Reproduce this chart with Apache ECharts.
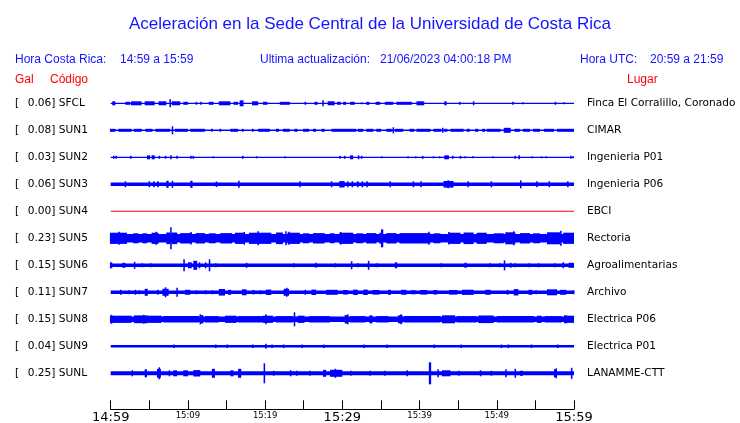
<!DOCTYPE html>
<html>
<head>
<meta charset="utf-8">
<script src="https://cdn.jsdelivr.net/npm/echarts@6/dist/echarts.min.js"></script>
<style>
html,body{margin:0;padding:0;background:#fff;}
#chart{width:740px;height:423px;}
</style>
</head>
<body>
<div id="chart"></div>
<script>
// ---------- DATA ----------
const tickLabels = ['14:59','','15:09','','15:19','','15:29','','15:39','','15:49','','15:59'];
const majorTickLabels = ['14:59','15:29','15:59'];
const stationCodes = ['SFCL','SUN1','SUN2','SUN3','SUN4','SUN5','SUN6','SUN7','SUN8','SUN9','SUNL'];
const peakGal = ['0.06','0.08','0.03','0.06','0.00','0.23','0.15','0.11','0.15','0.04','0.25'];
const places = ['Finca El Corralillo, Coronado','CIMAR','Ingenieria P01','Ingenieria P06','EBCI','Rectoria',
  'Agroalimentarias','Archivo','Electrica P06','Electrica P01','LANAMME-CTT'];
// background noise half-amplitude of each trace (counts)
const noiseLevel = [0.6, 0.8, 0.6, 1.8, 0.5, 4.3, 1.7, 1.7, 2.8, 1.3, 2];
// bursts: [start minute, end minute, half-amplitude]
const burstsSFCL = [[0.2,0.6,2],[1.9,2.5,1.5],[2.6,4.0,2],[4.4,5.7,2],[6.2,7.2,2],[7.6,7.8,4],[7.9,9.0,2],[9.4,10.0,1.5],[11.0,11.2,1.5],[11.6,11.8,1.5],[12.7,13.3,1.5],[14.0,15.5,2],[15.9,16.5,1.5],[16.7,17.2,3],[18.3,19.1,2],[19.7,20.3,1.5],[21.9,23.2,1.5],[25.1,25.3,1.5],[26.4,26.8,1.5],[27.4,27.6,3],[28.1,29.0,2],[29.3,29.8,1.5],[30.1,30.5,1.5],[31.0,31.6,1.5],[32.4,32.6,1],[33.1,33.5,1.5],[34.3,34.9,1.5],[35.5,36.6,1.5],[37.0,39.0,1.5],[39.6,40.6,2],[43.2,43.5,2],[45.1,45.3,1.5],[46.9,47.1,2],[52.0,52.2,1.5],[53.3,53.5,1],[57.5,57.7,1.5],[58.6,58.8,1]];
const burstsSUN1 = [[-0.1,0.6,1.5],[1.0,2.7,1.5],[3.0,4.0,1.5],[4.5,5.4,1.5],[5.8,7.7,1.5],[7.9,8.1,4],[8.3,10.0,1.5],[10.3,12.2,1.5],[13.0,13.2,1.5],[14.1,14.3,1.5],[15.5,16.5,1.5],[17.0,17.2,1.5],[18.3,18.5,1.5],[19.1,20.6,1.5],[21.4,21.8,1.5],[22.3,23.2,1.5],[23.8,24.2,1.5],[24.9,25.7,1.5],[26.2,26.6,1.5],[27.3,27.7,1.5],[28.6,31.8,1.5],[32.0,32.7,1.5],[33.1,34.0,1.5],[34.4,35.0,1.5],[35.7,36.4,1.5],[36.5,36.7,3],[36.8,37.9,1.5],[38.7,39.3,1.5],[39.6,41.4,1.5],[41.8,42.8,1.5],[42.9,43.1,2.5],[43.2,43.6,1.5],[44.0,45.7,1.5],[46.1,46.5,1.5],[47.2,47.6,1.5],[48.1,48.5,1.5],[48.7,50.5,1.5],[50.9,51.8,2.5],[52.3,53.0,1.5],[53.4,54.3,1.5],[54.7,55.6,1.5],[56.1,57.4,1.5],[57.8,60,1.5]];
const burstsSUN2 = [[0.3,0.5,1.5],[0.6,0.8,1.5],[2.5,2.7,1.5],[4.7,5.1,2],[5.3,5.7,2],[6.2,6.4,1.5],[7.0,7.2,1.5],[7.7,7.9,2],[8.5,8.7,1.5],[10.3,10.5,1.5],[10.6,10.8,1.5],[13.2,13.4,1],[17.0,17.2,1.5],[18.8,19.0,1],[22.5,22.7,1],[29.6,29.8,1.5],[30.2,30.4,1.5],[31.0,31.4,2],[32.0,32.2,2],[32.4,32.6,1.5],[35.0,35.2,1],[38.4,38.6,1],[39.4,39.6,1],[40.3,40.5,1.5],[41.7,41.9,1],[42.5,42.7,1],[43.2,43.8,2],[44.2,44.4,1.5],[45.2,45.4,1.5],[45.8,46.0,1],[46.8,47.0,1],[49.4,49.6,1],[52.3,52.5,1.5],[52.8,53.0,2],[54.5,54.7,1],[55.7,55.9,1],[56.3,56.5,1],[59.5,59.7,1.5],[59.8,60,1]];
const burstsSUN3 = [[1.8,2.0,3],[4.9,5.1,3],[5.5,5.7,3],[6.0,6.2,3],[7.2,7.5,3.5],[7.9,8.1,3.5],[10.3,10.6,3.5],[13.6,13.8,2.8],[16.5,16.7,3.5],[24.4,24.6,3],[28.5,28.7,3],[29.6,30.3,3.2],[30.6,30.8,3],[31.2,31.4,3],[31.9,32.1,3],[32.5,32.7,3],[33.1,33.3,3],[36.1,36.3,3],[39.1,39.3,3],[40.1,40.3,3],[43.1,44.4,3.3],[43.6,43.8,4],[46.2,46.4,3],[49.2,49.4,3],[53.0,53.2,4],[55.1,55.3,3],[56.7,56.9,3],[59.1,59.3,3]];
const burstsSUN4 = [];
const burstsSUN5 = [[-0.1,2.1,5.6],[1.0,1.2,6.5],[2.9,3.6,5],[4.1,4.7,5],[5.3,6.2,5.6],[5.8,6.0,6.5],[7.2,7.7,5.8],[7.7,7.9,11],[7.9,8.6,5.8],[9.0,10.5,5.2],[10.3,10.5,6.2],[11.0,12.2,5.2],[12.7,13.6,5],[14.2,15.7,5.2],[16.1,17.4,5.6],[17.2,17.4,6.3],[17.9,20.8,5.6],[19.0,19.2,7],[21.4,22.3,5.8],[22.6,22.8,7],[22.9,24.5,5.6],[23.0,23.2,6.5],[24.9,25.7,5],[26.2,27.7,5.2],[28.4,29.0,5],[29.6,31.4,5.6],[29.7,29.9,6.3],[31.8,32.7,5],[33.1,34.4,5.2],[34.8,35.0,5.5],[35.0,35.3,9],[35.7,37.0,5.2],[37.4,41.4,5.2],[41.1,41.3,6.5],[41.8,42.7,5],[43.7,43.9,6.2],[43.8,45.3,5.6],[45.7,47.0,5.8],[47.4,48.7,5.6],[49.6,50.9,5],[51.1,52.4,6],[52.1,52.3,7],[53.0,54.3,5.2],[54.7,55.6,5],[56.5,58.2,6],[58.2,58.4,7.5],[58.6,60,5.6]];
const burstsSUN6 = [[-0.1,0.2,3],[1.5,1.9,2.5],[3.0,3.2,3.5],[4.0,4.2,2],[5.1,5.3,2],[9.4,9.6,6],[10.0,10.5,3],[10.7,11.2,4.5],[11.4,11.6,3],[12.2,12.4,3],[12.7,12.9,6],[13.5,13.7,2],[17.5,17.7,2.5],[23.6,23.8,2],[26.5,26.7,2.5],[29.0,29.2,2],[31.1,31.3,4],[31.9,32.1,2],[33.3,33.5,4.5],[34.4,34.6,2],[36.8,37.1,3],[42.7,42.9,2],[45.8,46.1,2.5],[49.0,49.2,2],[50.3,50.5,2],[50.9,51.1,5],[51.7,51.9,2.5],[52.3,52.5,2],[54.1,54.3,2],[55.3,55.5,2],[57.4,57.6,2],[58.5,58.7,3],[59.3,60,2.5]];
const burstsSUN7 = [[1.2,1.4,2.5],[2.3,2.5,2],[3.1,3.3,2.5],[3.6,3.8,2],[4.4,4.8,3.5],[6.0,6.2,2.5],[6.7,7.5,3.5],[7.0,7.2,5],[8.5,8.7,4.5],[9.6,10.3,2.5],[11.0,11.2,2],[12.2,12.4,2],[13.1,13.3,2],[14.0,14.8,3.3],[15.2,15.6,2.5],[17.0,17.6,3],[18.3,18.7,2],[19.3,19.5,2],[20.1,20.8,2.7],[22.4,23.1,3.5],[22.7,22.9,4.5],[25.1,25.3,2.5],[26.0,26.6,2.7],[27.9,29.4,2.5],[30.1,30.7,2.3],[31.4,32.0,2.7],[32.7,33.3,2.7],[33.9,34.8,2.3],[35.9,36.3,2.5],[37.6,38.3,2.5],[38.9,39.5,2],[40.1,41.0,2.3],[41.8,42.3,2.3],[43.8,44.9,2.3],[45.5,47.0,2.6],[48.5,49.2,2.5],[51.3,51.5,2.5],[52.2,52.8,3.2],[54.1,54.6,2.5],[55.0,55.2,2],[56.5,57.8,3],[58.2,59.0,2.5],[59.9,60,2]];
const burstsSUN8 = [[-0.1,2.7,3.6],[0.0,0.2,4.5],[3.0,4.9,3.9],[4.2,4.4,4.5],[4.9,6.6,3.6],[6.8,11.4,3.2],[11.5,11.7,5],[11.7,12.0,4.2],[12.2,14.0,3.2],[14.8,16.3,3.6],[16.5,19.7,3.2],[19.7,21.0,3.6],[20.0,20.2,5],[21.4,23.6,3.2],[23.7,23.9,7],[24.2,25.1,3.6],[25.7,28.4,3.2],[30.3,30.7,4.2],[30.6,30.8,5],[31.0,33.0,3.2],[33.5,33.9,4],[34.4,36.0,3.2],[37.2,37.8,4],[37.5,37.7,5],[38.0,42.7,3.2],[42.9,44.6,4],[44.8,47.4,3.2],[47.6,49.6,3.8],[50.0,54.8,3.2],[55.2,55.8,3.6],[56.2,58.4,3.2],[58.7,59.1,4],[59.1,60,3.6]];
const burstsSUN9 = [[8.1,8.3,1.8],[13.5,13.7,1.8],[15.0,15.2,1.8],[18.3,18.5,1.8],[20.0,20.2,2.5],[20.8,21.0,1.8],[22.3,22.5,1.8],[24.7,24.9,1.8],[27.5,27.7,1.8],[32.7,32.9,1.8],[35.7,35.9,1.8],[41.8,42.0,1.8],[45.3,45.5,1.8],[50.5,50.7,1.8],[51.4,51.6,1.8],[54.4,54.6,1.8],[57.8,58.0,1.8]];
const burstsSUNL = [[2.7,2.9,3],[4.4,4.7,4],[6.0,6.5,4.5],[6.2,6.4,6],[7.5,7.7,3],[8.1,8.6,3],[9.4,10.0,3],[10.7,11.6,3.2],[13.1,13.5,4.5],[15.5,15.9,3],[16.5,16.9,4.5],[19.8,20.0,10],[21.0,21.2,2.5],[23.2,23.4,3],[24.0,24.2,2.5],[25.7,25.9,2.5],[27.5,27.9,3.5],[28.4,30.0,3.5],[29.0,29.2,4.5],[31.0,31.2,2.5],[33.5,33.7,2.5],[35.4,35.6,2.5],[38.3,38.5,3],[41.2,41.5,11],[42.3,42.5,4],[42.9,44.0,3],[45.0,45.2,2.5],[47.8,48.0,3],[49.2,49.4,2.5],[51.1,51.3,4],[52.3,52.5,4.5],[53.0,53.4,2.5],[57.4,57.8,4],[57.6,57.8,5],[59.6,59.8,5.5]];
const allBursts = [burstsSFCL,burstsSUN1,burstsSUN2,burstsSUN3,burstsSUN4,burstsSUN5,burstsSUN6,burstsSUN7,burstsSUN8,burstsSUN9,burstsSUNL];

// ---------- STYLE ----------
const ROW_STEP = 27;          // counts between trace baselines
const TRACE_BLUE = '#0000ff';
const TRACE_RED = '#ff0000';
const traceColors = stationCodes.map((c, i) => i === 4 ? TRACE_RED : TRACE_BLUE);

const items = [];
allBursts.forEach((list, row) => {
  items.push([0, 60, noiseLevel[row], row]);
  list.forEach(b => items.push([b[0], b[1], b[2], row]));
});
const rowValues = stationCodes.map((c, i) => i * ROW_STEP);

const chart = echarts.init(document.getElementById('chart'), null, {renderer: 'canvas'});
const hdr = {fontFamily: 'Liberation Sans', fontSize: 12, fill: '#1414ff'};
const red = {fontFamily: 'Liberation Sans', fontSize: 12, fill: '#ff0000'};
function txt(x, y, text, st) {
  return {type: 'text', x: x, y: y, style: Object.assign({text: text, verticalAlign: 'middle', align: 'left'}, st)};
}
chart.setOption({
  backgroundColor: '#ffffff',
  animation: false,
  title: {
    text: 'Aceleración en la Sede Central de la Universidad de Costa Rica',
    left: 'center', top: 11,
    textStyle: {fontFamily: 'Liberation Sans', fontSize: 17, fontWeight: 'normal', color: '#1414ff'}
  },
  graphic: [
    txt(15, 60, 'Hora Costa Rica:', hdr),
    txt(120, 60, '14:59 a 15:59', hdr),
    txt(260, 60, 'Ultima actualización:', hdr),
    txt(380, 60, '21/06/2023 04:00:18 PM', hdr),
    txt(580, 60, 'Hora UTC:', hdr),
    txt(650, 60, '20:59 a 21:59', hdr),
    txt(15, 80, 'Gal', red),
    txt(50, 80, 'Código', red),
    txt(627, 80, 'Lugar', red)
  ],
  grid: {left: 110.7, right: 166, top: 89.8, height: 319.5, outerBoundsMode: 'none', containLabel: false},
  xAxis: {
    type: 'value', min: 0, max: 60, interval: 5, position: 'bottom',
    axisLine: {show: true, onZero: false, lineStyle: {color: '#000', width: 1}},
    axisTick: {show: true, inside: true, length: 9, lineStyle: {color: '#000'}},
    splitLine: {show: false},
    axisLabel: {
      margin: 2, hideOverlap: false, showMinLabel: true, showMaxLabel: true,
      formatter: function (v) {
        const s = tickLabels[Math.round(v / 5)] || '';
        if (!s) return '';
        return majorTickLabels.indexOf(s) >= 0 ? '{big|' + s + '}' : '{small|' + s + '}';
      },
      rich: {
        big: {fontFamily: 'DejaVu Sans', fontSize: 13, color: '#000'},
        small: {fontFamily: 'DejaVu Sans', fontSize: 8.5, color: '#000'}
      }
    }
  },
  yAxis: [{
    type: 'value', min: -13.5, max: 306, inverse: true,
    axisLine: {show: false}, axisTick: {show: false}, splitLine: {show: false},
    axisLabel: {
      customValues: rowValues, align: 'left', margin: 95.7,
      fontFamily: 'DejaVu Sans', fontSize: 10.6, color: '#000',
      formatter: function (v) {
        const i = Math.round(v / ROW_STEP);
        return '{b|[}' + peakGal[i] + '] ' + stationCodes[i];
      },
      rich: {b: {width: 12.7, fontFamily: 'DejaVu Sans', fontSize: 10.6, color: '#000'}}
    }
  }, {
    type: 'value', min: -13.5, max: 306, inverse: true, position: 'right',
    axisLine: {show: false}, axisTick: {show: false}, splitLine: {show: false},
    axisLabel: {
      customValues: rowValues, align: 'left', margin: 13,
      fontFamily: 'DejaVu Sans', fontSize: 10.6, color: '#000',
      formatter: function (v) { return places[Math.round(v / ROW_STEP)]; }
    }
  }],
  series: [{
    type: 'custom',
    xAxisIndex: 0, yAxisIndex: 0,
    clip: false,
    data: items,
    renderItem: function (params, api) {
      const t0 = api.value(0), t1 = api.value(1), a = api.value(2), row = api.value(3);
      const base = row * ROW_STEP;
      const p0 = api.coord([t0, base - a]);
      const p1 = api.coord([t1, base + a]);
      const x = Math.min(p0[0], p1[0]);
      const w = Math.max(Math.abs(p1[0] - p0[0]), 1.3);
      const y = Math.min(p0[1], p1[1]);
      const h = Math.max(Math.abs(p1[1] - p0[1]), 1);
      return {type: 'rect', shape: {x: x, y: y, width: w, height: h}, style: {fill: traceColors[row]}};
    }
  }]
});
</script>
</body>
</html>
